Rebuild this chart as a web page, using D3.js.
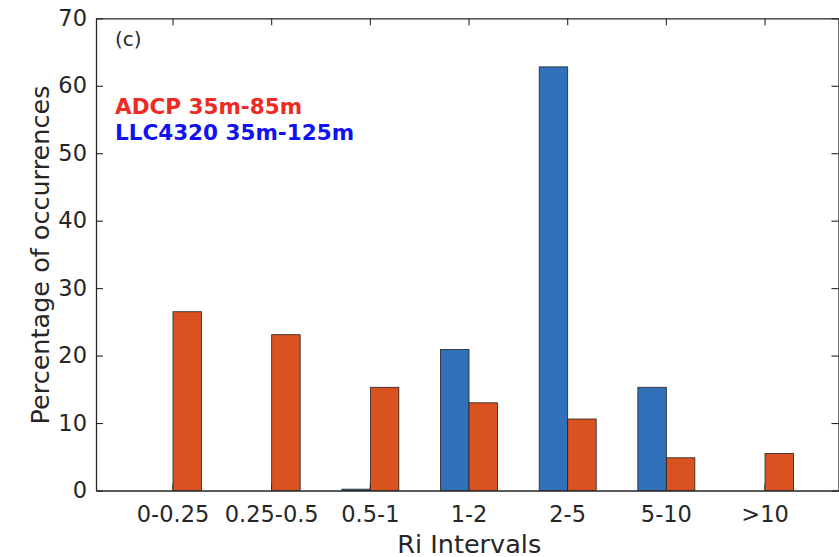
<!DOCTYPE html>
<html>
<head>
<meta charset="utf-8">
<script src="https://cdn.jsdelivr.net/npm/d3@7"></script>
<style>
  html, body { margin: 0; padding: 0; background: #fff; }
  svg { display: block; font-family: "DejaVu Sans", sans-serif; }
</style>
</head>
<body>
<svg id="chart" width="839" height="557"></svg>
<script>
// ---- data ----
const categories = ["0-0.25", "0.25-0.5", "0.5-1", "1-2", "2-5", "5-10", ">10"];
const llcValues  = [0, 0, 0.2, 20.9, 62.8, 15.3, 0];      // LLC4320 35m-125m (blue)
const adcpValues = [26.5, 23.1, 15.3, 13.0, 10.6, 4.85, 5.5]; // ADCP 35m-85m (orange)
const seriesNames = ["LLC4320", "ADCP"];
const yTicks = [0, 10, 20, 30, 40, 50, 60, 70];

// ---- layout ----
const svg = d3.select("#chart");
const mLeft = 96, mRight = 838.5, mTop = 18.3, mBottom = 490.5;
const axisColor = "#262626";

const x = d3.scaleBand()
  .domain(categories)
  .range([mLeft, mRight])
  .paddingInner(0)
  .paddingOuter(0.2625)
  .align(0.534);

const sub = d3.scaleBand()
  .domain(seriesNames)
  .range([x.bandwidth() / 2 - 28.5, x.bandwidth() / 2 + 28.5]);

const y = d3.scaleLinear().domain([0, 70]).range([mBottom, mTop]);

const colors = { LLC4320: "#3071BA", ADCP: "#D95220" };

// ---- axes (drawn under bars) ----
const fontTick = "22.5px";
function styleAxis(g) {
  g.select(".domain").attr("stroke", axisColor).attr("stroke-width", 1.3);
  g.selectAll(".tick line").attr("stroke", axisColor).attr("stroke-width", 1.1);
  g.selectAll(".tick text").attr("fill", axisColor).style("font-size", fontTick)
    .style("font-family", "'DejaVu Sans', sans-serif");
}

svg.append("g")
  .attr("transform", `translate(${mLeft},0)`)
  .call(d3.axisLeft(y).tickValues(yTicks).tickSizeInner(-7).tickSizeOuter(0).tickPadding(9))
  .call(styleAxis);

svg.append("g")
  .attr("transform", `translate(${mRight},0)`)
  .call(d3.axisRight(y).tickValues(yTicks).tickSizeInner(-7).tickSizeOuter(0).tickFormat(""))
  .call(styleAxis);

svg.append("g")
  .attr("transform", `translate(0,${mBottom})`)
  .call(d3.axisBottom(x).tickSizeInner(-7).tickSizeOuter(0).tickPadding(16))
  .call(styleAxis);

svg.append("g")
  .attr("transform", `translate(0,${mTop})`)
  .call(d3.axisTop(x).tickSizeInner(-7).tickSizeOuter(0).tickFormat(""))
  .call(styleAxis);

// ---- bars ----
const rows = categories.map((c, i) => ({ cat: c, LLC4320: llcValues[i], ADCP: adcpValues[i] }));
const groups = svg.append("g").selectAll("g")
  .data(rows).join("g")
  .attr("transform", d => `translate(${x(d.cat)},0)`);

groups.selectAll("rect")
  .data(d => seriesNames.map(k => ({ key: k, value: d[k] })))
  .join("rect")
  .attr("x", d => sub(d.key))
  .attr("width", sub.bandwidth())
  .attr("y", d => y(d.value))
  .attr("height", d => Math.max(0, y(0) - y(d.value)))
  .attr("fill", d => colors[d.key])
  .attr("stroke", "#222")
  .attr("stroke-width", 0.8);

// ---- labels ----
svg.append("text")
  .attr("x", (mLeft + mRight) / 2 + 2)
  .attr("y", 553)
  .attr("text-anchor", "middle")
  .attr("fill", axisColor)
  .style("font-size", "25.5px")
  .text("Ri Intervals");

svg.append("text")
  .attr("transform", `translate(49,255) rotate(-90)`)
  .attr("text-anchor", "middle")
  .attr("fill", axisColor)
  .style("font-size", "25.5px")
  .text("Percentage of occurrences");

svg.append("text")
  .attr("x", 115).attr("y", 46)
  .attr("fill", axisColor)
  .style("font-size", "20px")
  .text("(c)");

svg.append("text")
  .attr("x", 115).attr("y", 114)
  .attr("fill", "#EE2A22")
  .style("font-size", "21.5px").style("font-weight", "bold")
  .text("ADCP 35m-85m");

svg.append("text")
  .attr("x", 115).attr("y", 140)
  .attr("fill", "#1212F0")
  .style("font-size", "21.5px").style("font-weight", "bold")
  .text("LLC4320 35m-125m");
</script>
</body>
</html>
